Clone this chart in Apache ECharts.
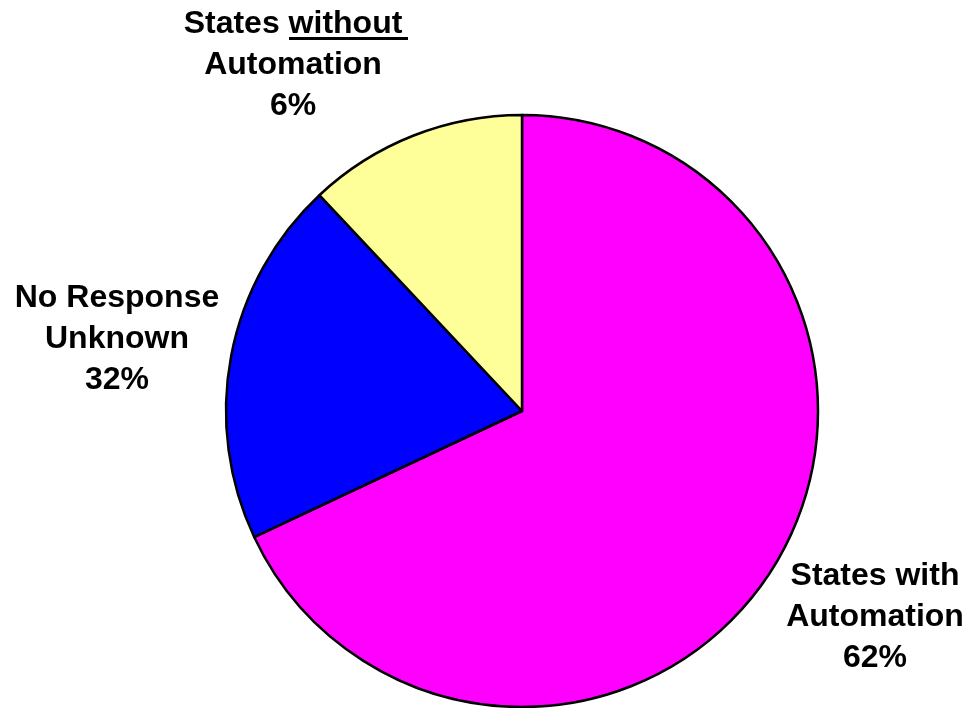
<!DOCTYPE html>
<html>
<head>
<meta charset="utf-8">
<script src="https://cdn.jsdelivr.net/npm/echarts@6/dist/echarts.min.js"></script>
<style>
  html, body { margin: 0; padding: 0; background: #fff; }
  #chart { width: 970px; height: 708px; }
</style>
</head>
<body>
<div id="chart"></div>
<script>
var categories = ['States with\nAutomation', 'No Response\nUnknown', 'States without\nAutomation'];
var values = [68, 20, 12];
var labelPct = ['62%', '32%', '6%'];
var colors = ['#ff00ff', '#0000ff', '#ffff99'];

// where each label block sits (centre of the text block)
var labelPos = [[875, 617], [117, 339], [293, 65]];

var chart = echarts.init(document.getElementById('chart'));

var option = {
    animation: false,
    graphic: [{
        // underline for "without"
        type: 'rect',
        shape: { x: 289, y: 37, width: 119, height: 3 },
        style: { fill: '#000' },
        z: 100
    }],
    series: [{
        type: 'pie',
        center: [522, 411],
        radius: 296,
        startAngle: 90,
        clockwise: true,
        data: categories.map(function (c, i) {
            return { name: c, value: values[i], itemStyle: { color: colors[i] } };
        }),
        itemStyle: {
            borderColor: '#000',
            borderWidth: 2.5
        },
        label: {
            show: true,
            position: 'outside',
            overflow: 'none',
            fontFamily: 'Liberation Sans, Arial, sans-serif',
            fontWeight: 'bold',
            fontSize: 32,
            lineHeight: 41,
            color: '#000',
            align: 'center',
            formatter: function (p) {
                return p.name + '\n' + labelPct[p.dataIndex];
            }
        },
        labelLine: { show: false },
        labelLayout: function (p) {
            var pos = labelPos[p.dataIndex];
            return { x: pos[0], y: pos[1], align: 'center', verticalAlign: 'middle' };
        },
        emphasis: { disabled: true }
    }]
};

chart.setOption(option);
</script>
</body>
</html>
